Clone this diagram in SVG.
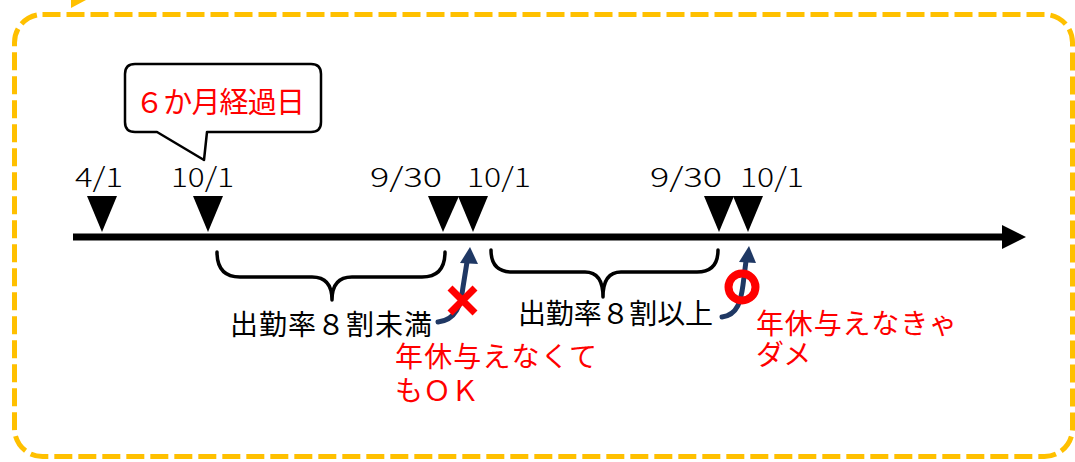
<svg xmlns="http://www.w3.org/2000/svg" width="1075" height="462" viewBox="0 0 1075 462">
<style>
.t{font-family:"Noto Sans CJK JP","Liberation Sans",sans-serif;}
.d{font-size:27px;fill:#000;font-weight:300;}
.b{font-size:28px;fill:#000;}
.r{font-size:28px;fill:#FF0000;}
.brace{fill:none;stroke:#000;stroke-width:3.5;stroke-linecap:round;stroke-linejoin:round;}
.tri{fill:#000;}
.nav{fill:none;stroke:#1F3864;stroke-width:5;stroke-linecap:round;}
.navh{fill:#1F3864;}
</style>
<g id="frame">
<rect x="14.5" y="14.5" width="1058" height="442" rx="28" ry="28" fill="none" stroke="#FFC000" stroke-width="5" stroke-dasharray="18 6"/>
<polygon points="71,0 86,0 71,8" fill="#FFC000"/>
</g>
<g id="timeline">
<line x1="73" y1="237" x2="1004" y2="237" stroke="#000" stroke-width="7"/>
<polygon points="1002,225 1026,237 1002,249" fill="#000"/>
</g>
<g id="marker-0401">
<polygon class="tri" points="87,196 117,196 102,232"/>
<text class="t d" x="75" y="187" textLength="48" lengthAdjust="spacingAndGlyphs">4/1</text>
</g>
<g id="marker-1001a">
<polygon class="tri" points="193,196 223,196 208,232"/>
<text class="t d" x="171" y="187" textLength="63" lengthAdjust="spacingAndGlyphs">10/1</text>
</g>
<g id="marker-0930a">
<polygon class="tri" points="428,196 459,196 443,232"/>
<text class="t d" x="370" y="187" textLength="72" lengthAdjust="spacingAndGlyphs">9/30</text>
</g>
<g id="marker-1001b">
<polygon class="tri" points="458,196 488,196 473,232"/>
<text class="t d" x="467" y="187" textLength="64" lengthAdjust="spacingAndGlyphs">10/1</text>
</g>
<g id="marker-0930b">
<polygon class="tri" points="704,196 734,196 719,232"/>
<text class="t d" x="650" y="187" textLength="72" lengthAdjust="spacingAndGlyphs">9/30</text>
</g>
<g id="marker-1001c">
<polygon class="tri" points="733,196 763,196 748,232"/>
<text class="t d" x="740" y="187" textLength="64" lengthAdjust="spacingAndGlyphs">10/1</text>
</g>
<g id="callout">
<path d="M135,64 L311,64 Q321,64 321,74 L321,122 Q321,132 311,132 L207,132 L204,160 L157,132 L135,132 Q125,132 125,122 L125,74 Q125,64 135,64 Z" fill="#fff" stroke="#000" stroke-width="2.5" stroke-linejoin="round"/>
<text class="t" x="135" y="113" font-size="29" fill="#FF0000" textLength="170">６か月経過日</text>
</g>
<g id="brace1">
<path class="brace" d="M217,252 Q217,277 240,277 L312,277 Q332,277 332,300 Q332,277 352,277 L422,277 Q445,277 445,252"/>
<text class="t b" x="230" y="335" textLength="202">出勤率８割未満</text>
</g>
<g id="brace2">
<path class="brace" d="M491,250 Q491,272 512,272 L585,272 Q603,272 603,297 Q603,272 621,272 L697,272 Q718,272 718,250"/>
<text class="t b" x="518" y="324" textLength="195">出勤率８割以上</text>
</g>
<g id="connectors">
<path class="nav" d="M438,322 C456,320 461,305 463,287 L467,262"/>
<polygon class="navh" points="470,247 478,264 460,263"/>
<path class="nav" d="M722,317 C738,315 741,300 743,285 L746,261"/>
<polygon class="navh" points="749,246 756,263 739,262"/>
</g>
<g id="ng">
<path d="M450,288 L475,313 M475,288 L450,313" stroke="#FF0000" stroke-width="7" fill="none"/>
<text class="t r" x="395" y="367" textLength="202">年休与えなくて</text>
<text class="t r" x="395" y="401">もＯＫ</text>
</g>
<g id="ok">
<circle cx="742" cy="287" r="13.5" fill="none" stroke="#FF0000" stroke-width="8"/>
<text class="t r" x="756" y="334" textLength="201">年休与えなきゃ</text>
<text class="t r" x="756" y="365">ダメ</text>
</g>
</svg>
